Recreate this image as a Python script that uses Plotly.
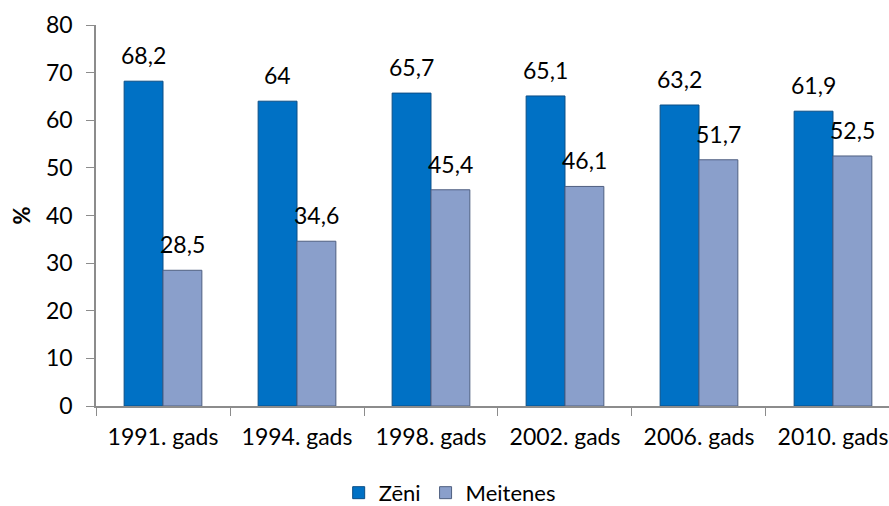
import plotly.graph_objects as go

# Survey years and shares (%) by gender
years = ["1991. gads", "1994. gads", "1998. gads", "2002. gads", "2006. gads", "2010. gads"]
zeni = [68.2, 64, 65.7, 65.1, 63.2, 61.9]
meitenes = [28.5, 34.6, 45.4, 46.1, 51.7, 52.5]

FONT = "Lato"
BLUE = "#0071C5"
GREYBLUE = "#8A9FCB"


def fmt(v):
    return f"{v:g}".replace(".", ",")


fig = go.Figure()
fig.add_trace(go.Bar(
    x=years, y=zeni, name="Zēni",
    marker=dict(color=BLUE, line=dict(color="#0B4E86", width=1)),
))
fig.add_trace(go.Bar(
    x=years, y=meitenes, name="Meitenes",
    marker=dict(color=GREYBLUE, line=dict(color="#4F5F80", width=1)),
))

# value labels above each bar, shifted onto its own bar within the group
annotations = []
for shift, values in ((-19.5, zeni), (19.5, meitenes)):
    for cat, v in zip(years, values):
        annotations.append(dict(
            x=cat, y=v, text=fmt(v), showarrow=False,
            xshift=shift, yshift=26, yanchor="middle",
            font=dict(family=FONT, size=23, color="#000"),
        ))

fig.update_layout(
    width=889, height=506,
    margin=dict(l=96, r=0, t=25, b=100, autoexpand=False),
    paper_bgcolor="white", plot_bgcolor="white",
    barmode="group", bargap=0.42, bargroupgap=0,
    font=dict(family=FONT, size=23, color="#000"),
    annotations=annotations,
    showlegend=True,
    legend=dict(
        orientation="h", x=0.446, xanchor="center",
        y=-0.228, yanchor="middle",
        font=dict(family=FONT, size=22),
    ),
    xaxis=dict(
        type="category", range=[-0.5, 5.418], automargin=False,
        showline=True, linecolor="#8C8C8C", linewidth=1.5,
        ticks="outside", tickson="boundaries", ticklen=8, tickcolor="#8C8C8C",
        tickfont=dict(family=FONT, size=23), tickangle=0, ticklabelstandoff=10,
        showgrid=False, zeroline=False,
    ),
    yaxis=dict(
        range=[0, 80], dtick=10, automargin=False,
        showline=True, linecolor="#8C8C8C", linewidth=1.5,
        ticks="outside", ticklen=8, tickcolor="#8C8C8C",
        tickfont=dict(family=FONT, size=23), ticklabelstandoff=9,
        showgrid=False, zeroline=False,
        title=dict(text="<b>%</b>", font=dict(family=FONT, size=22), standoff=9),
    ),
)

fig.write_html("out.html")
